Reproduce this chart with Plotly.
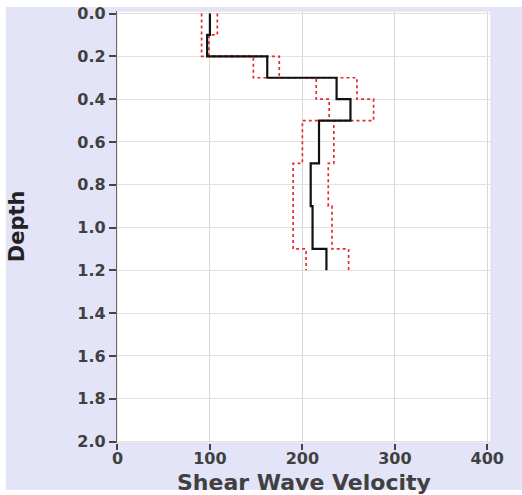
import plotly.graph_objects as go

# Layer boundaries (depth) and shear-wave velocity per layer
layer_top = [0.0, 0.1, 0.2, 0.3, 0.4, 0.5, 0.7, 0.9, 1.1]
layer_bottom = 1.2
vs_median = [100, 97, 162, 237, 252, 218, 209, 211, 226]
vs_lower = [91, 91, 147, 215, 229, 200, 190, 190, 204]
vs_upper = [108, 99, 175, 259, 277, 234, 228, 232, 250]

depth_ticks = [0.0, 0.2, 0.4, 0.6, 0.8, 1.0, 1.2, 1.4, 1.6, 1.8, 2.0]
velocity_ticks = [0, 100, 200, 300, 400]


def step_profile(values):
    # repeat the last value so the deepest layer reaches its bottom
    return values + [values[-1]], layer_top + [layer_bottom]


fig = go.Figure()

for vals in (vs_lower, vs_upper):
    x, y = step_profile(vals)
    fig.add_trace(go.Scatter(
        x=x, y=y, mode="lines", line_shape="vh",
        line=dict(color="rgb(225,45,45)", width=1.7, dash="3px,3px"),
        hoverinfo="skip", showlegend=False,
    ))

x, y = step_profile(vs_median)
fig.add_trace(go.Scatter(
    x=x, y=y, mode="lines", line_shape="vh",
    line=dict(color="#111111", width=2.2),
    showlegend=False,
))

tick_font = dict(family="DejaVu Sans", size=16, color="#404040", weight="bold")

fig.update_layout(
    width=522, height=495,
    margin=dict(l=117, r=31, t=11, b=52),
    paper_bgcolor="white",
    plot_bgcolor="white",
    shapes=[
        # lavender backdrop, then the white plotting area on top of it
        dict(type="rect", xref="paper", yref="paper", layer="below",
             x0=-0.297, x1=1.083, y0=-0.109, y1=1.0093,
             fillcolor="#e4e4f8", line=dict(width=0)),
        dict(type="rect", xref="paper", yref="paper", layer="below",
             x0=0, x1=1, y0=0, y1=1,
             fillcolor="white", line=dict(color="#dcdce8", width=1)),
    ],
    # axis titles placed as free labels beside the tick labels
    annotations=[
        dict(text="Shear Wave Velocity", xref="paper", yref="paper",
             x=0.5, y=-0.0905, xanchor="center", yanchor="middle",
             showarrow=False,
             font=dict(family="DejaVu Sans", size=22, color="#404040", weight="bold")),
        dict(text="Depth", xref="paper", yref="paper",
             x=-0.267, y=0.502, xanchor="center", yanchor="middle",
             textangle=-90, showarrow=False,
             font=dict(family="DejaVu Sans", size=21, color="#222", weight="bold")),
    ],
    xaxis=dict(
        range=[-0.5, 404],
        tickvals=velocity_ticks,
        ticks="outside", ticklen=6, tickwidth=1.5, tickcolor="#444",
        ticklabelstandoff=-5,
        showgrid=True, gridcolor="#d9d9d9", gridwidth=1,
        zeroline=False, showline=False, automargin=False,
        tickfont=tick_font,
    ),
    yaxis=dict(
        range=[2.007, -0.012],
        tickvals=depth_ticks,
        tickformat=".1f",
        ticks="outside", ticklen=7, tickwidth=1.5, tickcolor="#444",
        showgrid=True, gridcolor="#e2e2e2", gridwidth=1,
        zeroline=False, showline=True, linecolor="#666", linewidth=1.2,
        automargin=False,
        tickfont=tick_font,
    ),
)

fig.write_html("out.html")
